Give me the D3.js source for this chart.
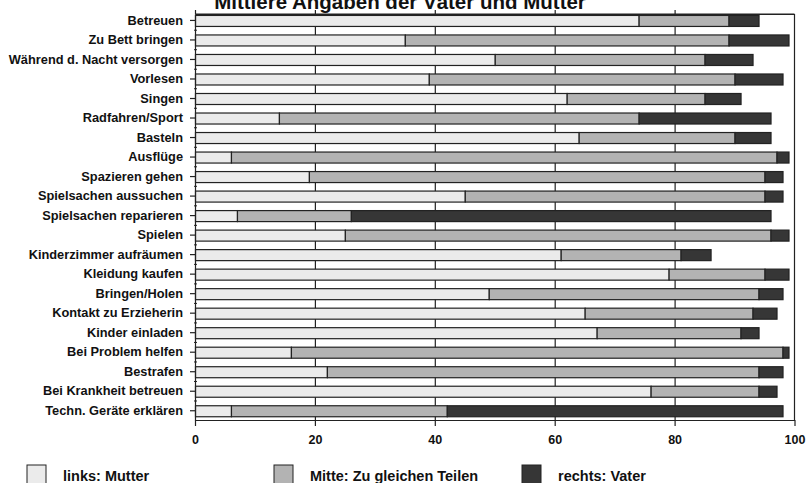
<!DOCTYPE html>
<html>
<head>
<meta charset="utf-8">
<script src="https://cdn.jsdelivr.net/npm/d3@7"></script>
<style>
  body { margin: 0; background: #fff; }
  svg { display: block; font-family: "Liberation Sans", Arial, sans-serif; }
</style>
</head>
<body>
<svg id="chart" width="807" height="483"></svg>
<script>
// Werte (Prozent)
var categories = ["Betreuen", "Zu Bett bringen", "Während d. Nacht versorgen", "Vorlesen", "Singen",
  "Radfahren/Sport", "Basteln", "Ausflüge", "Spazieren gehen", "Spielsachen aussuchen",
  "Spielsachen reparieren", "Spielen", "Kinderzimmer aufräumen", "Kleidung kaufen", "Bringen/Holen",
  "Kontakt zu Erzieherin", "Kinder einladen", "Bei Problem helfen", "Bestrafen",
  "Bei Krankheit betreuen", "Techn. Geräte erklären"];
var mutter = [74, 35, 50, 39, 62, 14, 64, 6, 19, 45, 7, 25, 61, 79, 49, 65, 67, 16, 22, 76, 6];
var gleich = [15, 54, 35, 51, 23, 60, 26, 91, 76, 50, 19, 71, 20, 16, 45, 28, 24, 82, 72, 18, 36];
var vater  = [5, 10, 8, 8, 6, 22, 6, 2, 3, 3, 70, 3, 5, 4, 4, 4, 3, 1, 4, 3, 56];
var seriesNames = ["links: Mutter", "Mitte: Zu gleichen Teilen", "rechts: Vater"];
var xTicks = [0, 20, 40, 60, 80, 100];
var title = "Mittlere Angaben der Väter und Mütter";

var colors = ["#ebebeb", "#b3b3b3", "#363636"];
var svg = d3.select("#chart");
var pLeft = 195, pRight = 794.5, pTop = 14, pBottom = 420;

var x = d3.scaleLinear().domain([0, 100]).range([pLeft, pRight]);
var y = d3.scaleBand().domain(categories).range([pTop, pBottom])
  .paddingInner(0.436).paddingOuter(0.12).align(0.2);

var rows = categories.map(function(c, i){
  return { cat: c, mutter: mutter[i], gleich: gleich[i], vater: vater[i] };
});
var stack = d3.stack().keys(["mutter", "gleich", "vater"])(rows);

// Gitterlinien
svg.append("g").selectAll("line").data(xTicks.slice(1, -1)).join("line")
  .attr("x1", d => x(d) + 0.5).attr("x2", d => x(d) + 0.5)
  .attr("y1", pTop).attr("y2", pBottom)
  .attr("stroke", "#222").attr("stroke-width", 1.2);

// Balken
svg.append("g").selectAll("g").data(stack).join("g")
  .attr("fill", (d, i) => colors[i])
  .selectAll("rect").data(d => d).join("rect")
  .attr("x", d => x(d[0]) + 0.5)
  .attr("y", d => y(d.data.cat) + 0.5)
  .attr("width", d => Math.max(0, x(d[1]) - x(d[0])))
  .attr("height", y.bandwidth())
  .attr("stroke", "#222").attr("stroke-width", 1.2);

// Rahmen
var frame = svg.append("g").attr("stroke", "#222").attr("stroke-width", 1.2).attr("fill", "none");
frame.append("line").attr("x1", pLeft).attr("x2", pRight).attr("y1", pTop).attr("y2", pTop);
frame.append("line").attr("x1", pRight).attr("x2", pRight).attr("y1", pTop).attr("y2", pBottom);

// Achsen
var xAxis = svg.append("g").attr("transform", "translate(0," + pBottom + ")")
  .call(d3.axisBottom(x).tickValues(xTicks).tickSize(6).tickPadding(10).tickSizeOuter(0));
var xTop = svg.append("g").attr("transform", "translate(0," + pTop + ")")
  .call(d3.axisTop(x).tickValues(xTicks.slice(0, -1)).tickSize(4).tickFormat("").tickSizeOuter(0));
var yAxis = svg.append("g").attr("transform", "translate(" + pLeft + ",0)")
  .call(d3.axisLeft(y).tickSize(5).tickPadding(7).tickSizeOuter(0));

// kleine Zwischenstriche
var bounds = categories.slice(1).map(c => y(c) - (y.step() - y.bandwidth()) / 2);
svg.append("g").selectAll("line").data(bounds).join("line")
  .attr("x1", pLeft - 1).attr("x2", pLeft + 2)
  .attr("y1", d => d).attr("y2", d => d)
  .attr("stroke", "#222").attr("stroke-width", 1);

[xAxis, xTop, yAxis].forEach(function(a){
  a.selectAll(".domain, line").attr("stroke", "#222").attr("stroke-width", 1.2);
  a.selectAll("text").attr("fill", "#111").attr("font-size", 12.8).attr("font-weight", "bold")
    .attr("font-family", "'Liberation Sans', Arial, sans-serif");
});
xAxis.selectAll("text").attr("font-size", 12.5).attr("dy", "0.6em");

// Titel
svg.append("text").attr("x", 400).attr("y", 9).attr("text-anchor", "middle")
  .attr("font-size", 20.5).attr("font-weight", "bold").attr("fill", "#111").text(title);

// Legende
var legendX = [27, 274, 522];
var legend = svg.append("g").selectAll("g").data(seriesNames).join("g")
  .attr("transform", (d, i) => "translate(" + legendX[i] + ",465)");
legend.append("rect").attr("width", 19).attr("height", 20)
  .attr("fill", (d, i) => colors[i]).attr("stroke", "#222").attr("stroke-width", 1);
legend.append("text").attr("x", 36).attr("y", 15.5)
  .attr("font-size", 14.5).attr("font-weight", "bold").attr("fill", "#111").text(d => d);
</script>
</body>
</html>
